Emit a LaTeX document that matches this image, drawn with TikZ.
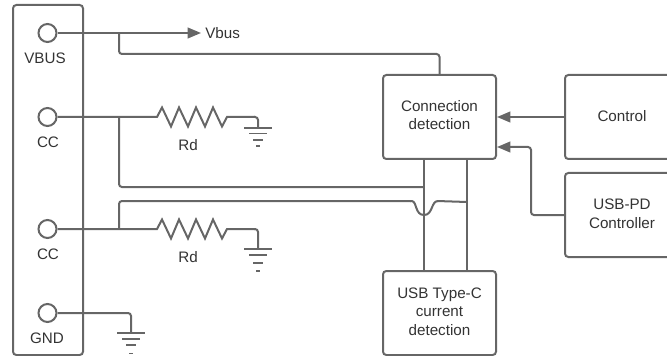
\documentclass[tikz,border=0pt]{standalone}
\usepackage{fontspec}
\setmainfont{Liberation Sans}
\usetikzlibrary{arrows.meta}
\definecolor{wire}{HTML}{666666}
\definecolor{txt}{HTML}{333333}
\tikzset{
  x=0.75pt,y=-0.75pt,
  wireline/.style={draw=wire,line width=1.5pt,rounded corners=2.2pt},
  zigline/.style={draw=wire,line width=1.5pt,line join=miter},
  thinwire/.style={draw=wire,line width=1.15pt,rounded corners=2.2pt},
  arrowline/.style={wireline,-{Triangle[length=10pt,width=8pt]}},
  blockbox/.style={draw=wire,line width=1.5pt,rounded corners=2.5pt,inner sep=0pt},
  terminal/.style={circle,draw=wire,line width=1.5pt,minimum size=13.5pt,inner sep=0pt,fill=white},
  lbl/.style={text=txt,font=\labelfont,inner sep=0pt,align=center},
  pics/earth/.style args={#1/#2/#3/#4}{code={
    \draw[wire,line width=1.3pt] (-14,#1) -- (14,#1);
    \draw[wire,line width=1.3pt] (-9,#2) -- (9,#2);
    \draw[wire,line width=1.3pt] (-5,#3) -- (5,#3);
    \draw[wire,line width=1.3pt] (-1.6,#4) -- (1.6,#4);
  }},
}
\newcommand{\labelfont}{\fontsize{11.4}{14}\selectfont}
\begin{document}
\begin{tikzpicture}
\useasboundingbox (0,0) rectangle (667,356);
\clip (0,0) rectangle (667,356);
% blocks
\node[blockbox,minimum width=52.5pt,minimum height=262.5pt] (conn) at (48,180) {};
\node[blockbox,minimum width=84.75pt,minimum height=63pt] (det) at (439.5,117) {};
\node[blockbox,minimum width=85.5pt,minimum height=63pt] (ctrl) at (622,117) {};
\node[blockbox,minimum width=85.5pt,minimum height=63pt] (pd) at (622,215) {};
\node[blockbox,minimum width=84.75pt,minimum height=63pt] (cur) at (439.5,313) {};
\node[lbl] at (439.5,115) {Connection\\detection};
\node[lbl] at (622,116) {Control};
\node[lbl] at (622,213.5) {USB-PD\\Controller};
\node[lbl] at (439.5,311.5) {USB Type-C\\current\\detection};
% terminals
\node[terminal] (t1) at (47.5,33) {};
\node[terminal] (t2) at (47.5,117) {};
\node[terminal] (t3) at (47.5,229) {};
\node[terminal] (t4) at (47.5,313) {};
\node[lbl] at (45,58) {VBUS};
\node[lbl] at (48,142) {CC};
\node[lbl] at (48,254) {CC};
\node[lbl] at (47,338) {GND};
\node[lbl] at (188,145.5) {Rd};
\node[lbl] at (188,257.5) {Rd};
\node[lbl,anchor=west] (vb) at (205,33) {Vbus};
% named points
\coordinate (j1) at (119,33);
\coordinate (j2) at (119,117);
\coordinate (j3) at (119,229);
\coordinate (g1) at (258,128);
\coordinate (g2) at (258,249);
\coordinate (g3) at (131,333);
\coordinate (a) at (424,187);
\coordinate (b) at (467,202);
\coordinate (vbtip) at (201,33);
% VBUS
\draw[arrowline] (t1.east) -- (vbtip);
\draw[wireline] (j1) -- (119,54) -- (det.north |- 0,54) -- (det.north);
% CC 1
\draw[zigline] (t2.east) -- (157,117) -- (162,107.5) -- (171,126.5) -- (179,107.5) -- (188,126.5) -- (196,107.5) -- (205,126.5) -- (213,107.5) -- (222,126.5) -- (227,117) -- (255,117);
\draw[wireline] (254,117) -- (258,117) -- (g1);
\draw[wireline] (j2) -- (119,187) -- (a);
% CC 2
\draw[zigline] (t3.east) -- (157,229) -- (162,219.5) -- (171,238.5) -- (179,219.5) -- (188,238.5) -- (196,219.5) -- (205,238.5) -- (213,219.5) -- (222,238.5) -- (227,229) -- (255,229);
\draw[wireline] (254,229) -- (258,229) -- (g2);
\draw[wireline] (j3) -- (119,201) -- (411,201);
\draw[draw=wire,line width=1.5pt] (410,201) -- (412,201)
  .. controls (417,202) and (415,215) .. (424,215)
  .. controls (433,215) and (431,201) .. (438,201);
\draw[wireline] (437,201) -- (b);
% GND
\draw[wireline] (t4.east) -- (131,313) -- (g3);
% detection lines
\draw[thinwire] (det.south -| a) -- (cur.north -| a);
\draw[thinwire] (det.south -| b) -- (cur.north -| b);
% arrows
\draw[arrowline] (ctrl.west) -- (det.east);
\draw[arrowline] (pd.west) -- (531,215) -- (531,147) -- (det.east |- 0,147);
% grounds
\pic at (258,0) {earth=128/133.5/140/146};
\pic at (258,0) {earth=249/255/263/271};
\pic at (131,0) {earth=333/339/345/353.5};
\end{tikzpicture}
\end{document}
